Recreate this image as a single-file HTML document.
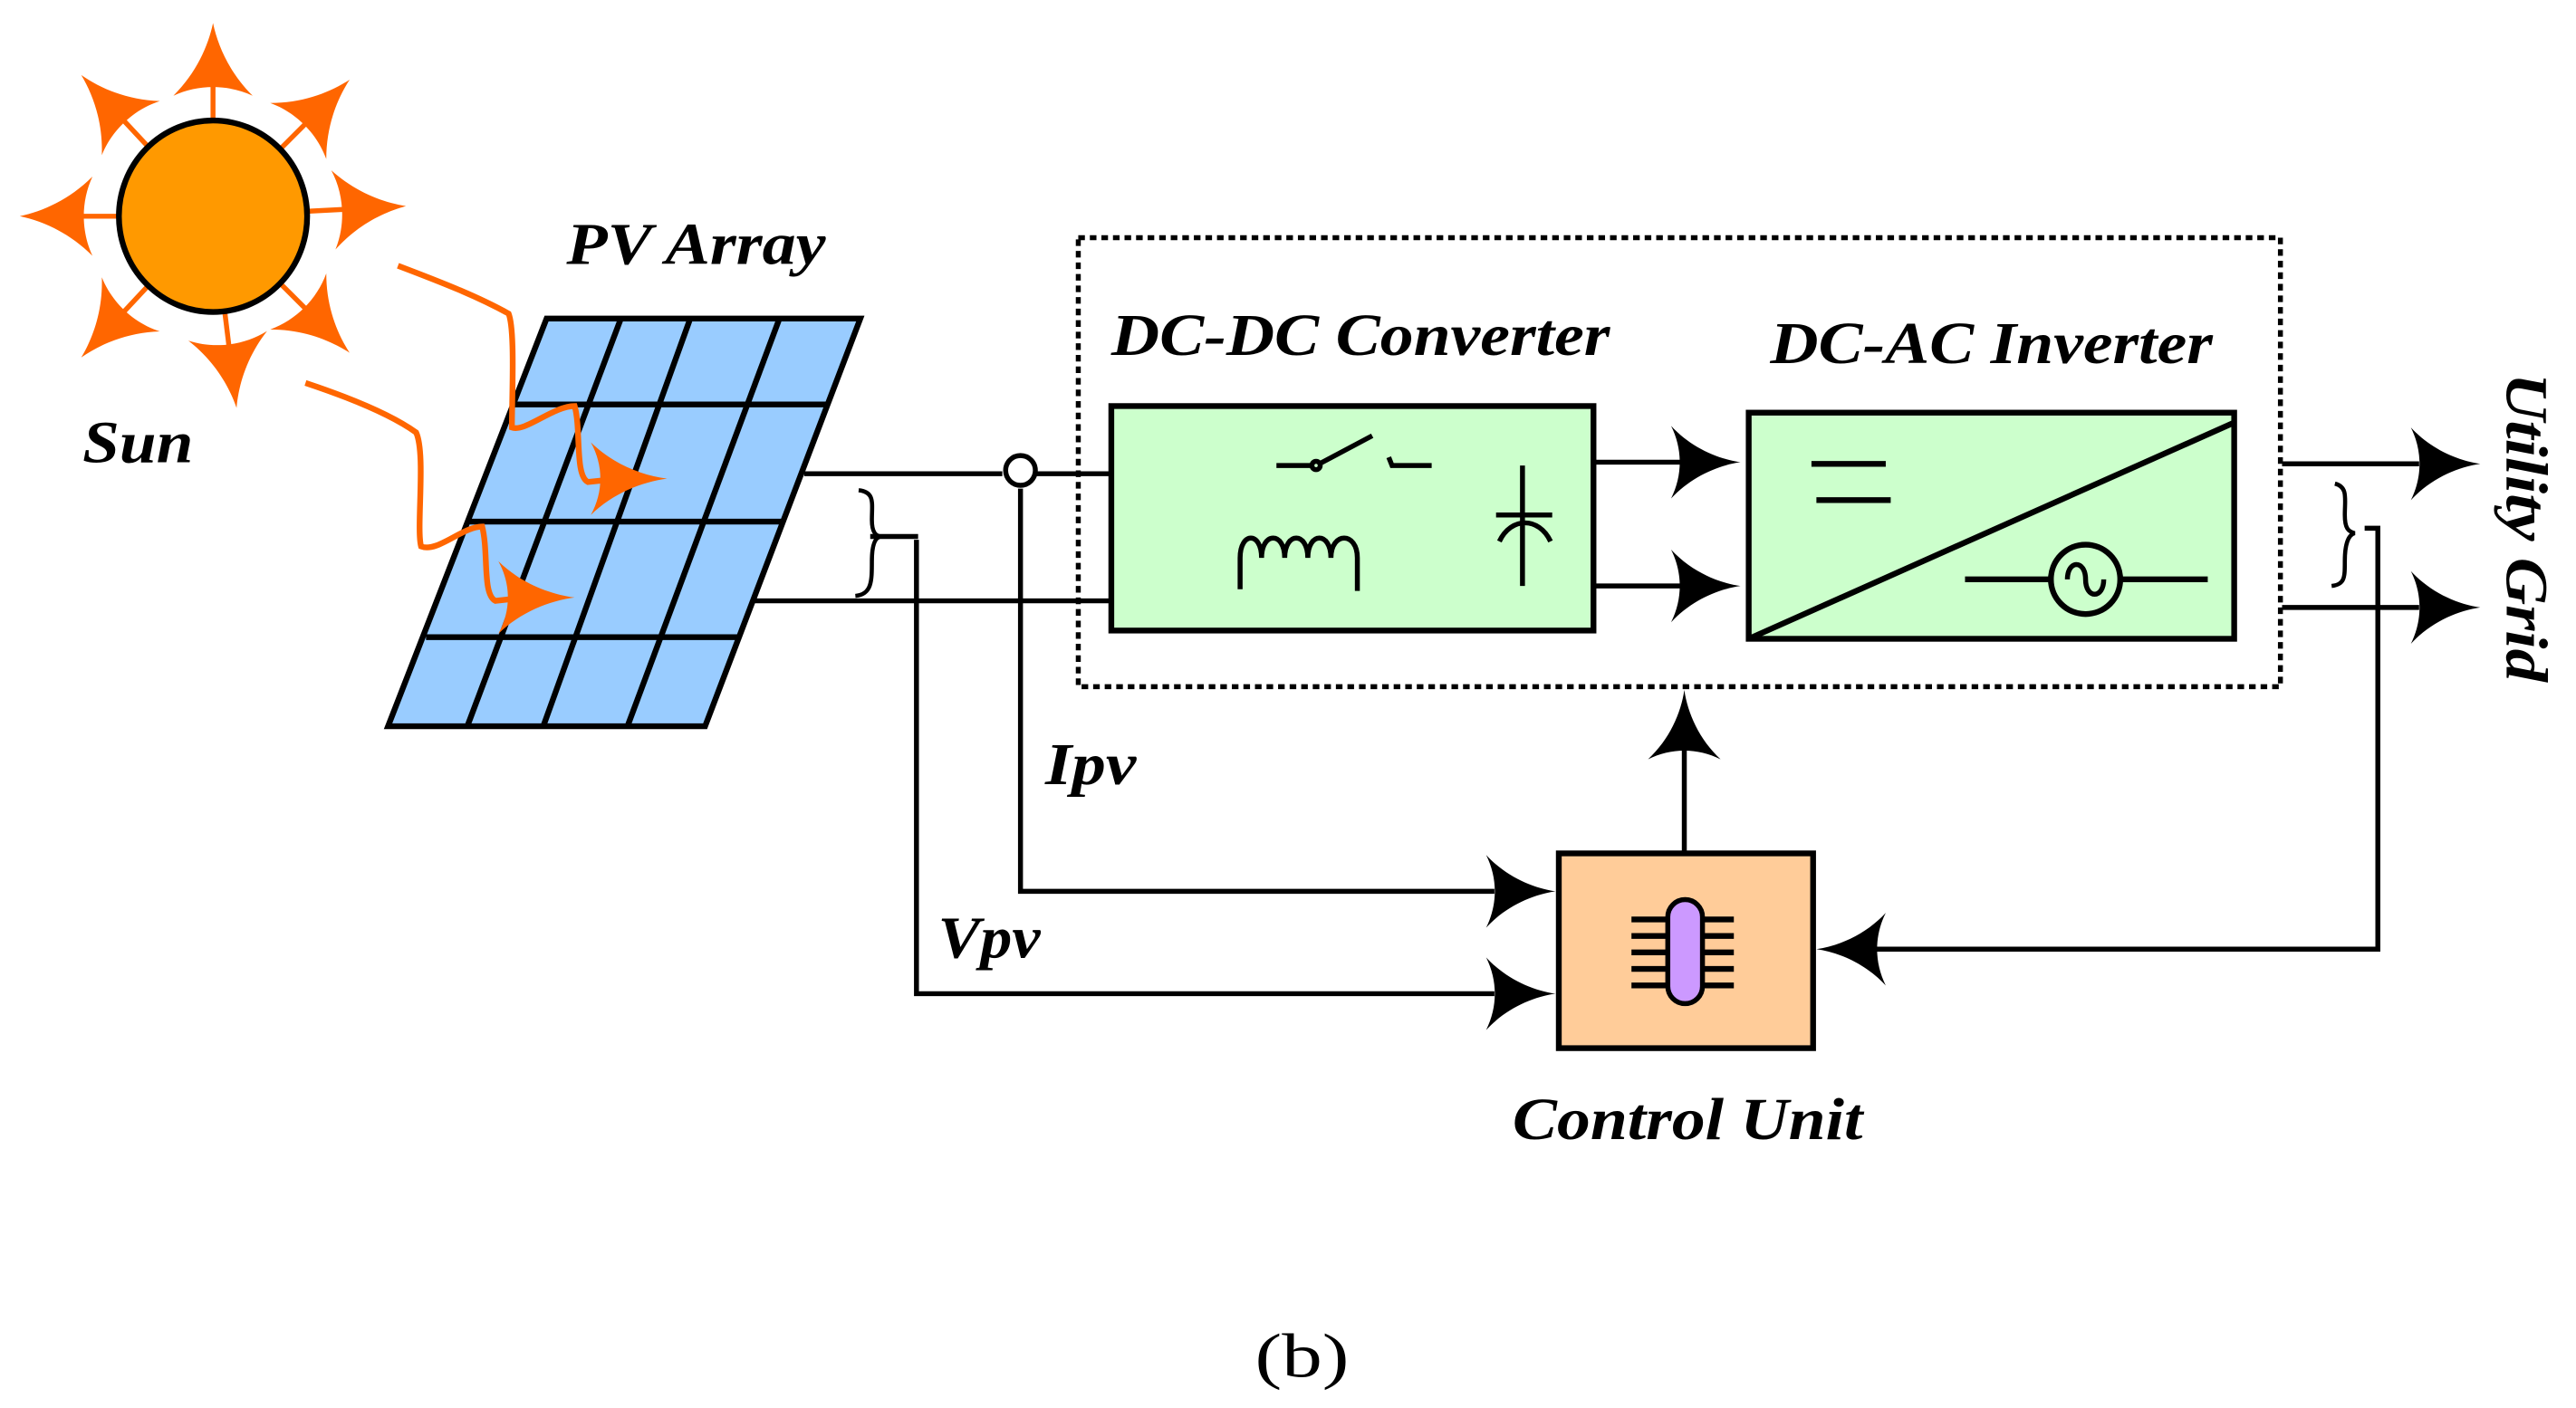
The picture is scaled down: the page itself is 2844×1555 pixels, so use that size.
<!DOCTYPE html>
<html><head><meta charset="utf-8"><style>
html,body{margin:0;padding:0;background:#fff;}
svg{display:block;}
text{font-family:"Liberation Serif",serif;font-weight:bold;font-style:italic;fill:#000;}
text.plain{font-weight:normal;font-style:normal;}
</style></head><body>
<svg width="2844" height="1555" viewBox="0 0 1560 853" preserveAspectRatio="none" xmlns="http://www.w3.org/2000/svg">
<defs>
<path id="ah" d="M0,0 C-14,-2 -30,-9 -42,-22 C-35,-8 -35,8 -42,22 C-30,9 -14,2 0,0Z"/>
<path id="sh" d="M0,0 C-14,-3 -30,-10 -44,-24 C-37,-9 -37,9 -44,24 C-30,10 -14,3 0,0Z"/>
</defs>
<rect width="1560" height="853" fill="#fff"/>

<!-- Sun rays -->
<g fill="#ff6600" stroke="#ff6600">
<g transform="translate(129,131)">
  <g transform="rotate(-90)"><line x1="58" y1="0" x2="88" y2="0" stroke-width="3"/><use href="#sh" transform="translate(117,0)" stroke="none"/></g>
  <g transform="rotate(-45)"><line x1="58" y1="0" x2="88" y2="0" stroke-width="3"/><use href="#sh" transform="translate(117,0)" stroke="none"/></g>
  <g transform="rotate(-3)"><line x1="58" y1="0" x2="88" y2="0" stroke-width="3"/><use href="#sh" transform="translate(117,0)" stroke="none"/></g>
  <g transform="rotate(45)"><line x1="58" y1="0" x2="88" y2="0" stroke-width="3"/><use href="#sh" transform="translate(117,0)" stroke="none"/></g>
  <g transform="rotate(83)"><line x1="58" y1="0" x2="88" y2="0" stroke-width="3"/><use href="#sh" transform="translate(117,0)" stroke="none"/></g>
  <g transform="rotate(133)"><line x1="58" y1="0" x2="88" y2="0" stroke-width="3"/><use href="#sh" transform="translate(117,0)" stroke="none"/></g>
  <g transform="rotate(180)"><line x1="58" y1="0" x2="88" y2="0" stroke-width="3"/><use href="#sh" transform="translate(117,0)" stroke="none"/></g>
  <g transform="rotate(-133)"><line x1="58" y1="0" x2="88" y2="0" stroke-width="3"/><use href="#sh" transform="translate(117,0)" stroke="none"/></g>
</g>
</g>
<ellipse cx="129" cy="131" rx="57" ry="58" fill="#ff9900" stroke="#000" stroke-width="3.5"/>
<text x="50" y="280" font-size="36" textLength="67" lengthAdjust="spacingAndGlyphs">Sun</text>

<!-- PV panel -->
<polygon points="331,193 521,193 427,440 235,440" fill="#99ccff" stroke="#000" stroke-width="3.5"/>
<g stroke="#000" stroke-width="3.5">
<line x1="311" y1="245" x2="501" y2="245"/>
<line x1="284" y1="316" x2="474" y2="316"/>
<line x1="258" y1="386" x2="448" y2="386"/>
<line x1="376" y1="193" x2="283" y2="440"/>
<line x1="418" y1="193" x2="329" y2="440"/>
<line x1="472" y1="193" x2="380" y2="440"/>
</g>
<text x="343" y="160" font-size="36" textLength="157" lengthAdjust="spacingAndGlyphs">PV Array</text>

<!-- light rays -->
<g fill="none" stroke="#ff6600" stroke-width="3.5">
<path d="M241,161 C270,172 290,180 308,190 C312,200 310,240 310,259 C318,262 335,246 348,246 C352,260 348,288 356,292 L375,290"/>
<path d="M185,232 C215,242 238,252 252,262 C258,275 252,320 255,331 C265,335 280,319 292,319 C296,335 292,360 300,364 L318,362"/>
</g>
<g fill="#ff6600">
<use href="#ah" transform="translate(404,290) scale(1.1,1)"/>
<use href="#ah" transform="translate(348,362) scale(1.1,1)"/>
</g>

<!-- wires from panel -->
<g stroke="#000" stroke-width="3" fill="none">
<line x1="487" y1="287" x2="607" y2="287"/>
<line x1="625" y1="287" x2="673" y2="287"/>
<line x1="457" y1="364" x2="678" y2="364"/>
<polyline points="618,296 618,540 905,540"/>
<polyline points="555,327 555,602 905,602"/>
<line x1="527" y1="325" x2="556" y2="325"/>
<polyline points="1432,320 1440,320 1440,575 1135,575"/>
<line x1="1020" y1="517" x2="1020" y2="450"/>
<line x1="966" y1="280" x2="1025" y2="280"/>
<line x1="966" y1="355" x2="1025" y2="355"/>
<line x1="1382" y1="281" x2="1465" y2="281"/>
<line x1="1382" y1="368" x2="1465" y2="368"/>
</g>
<circle cx="618" cy="285" r="9" fill="#fff" stroke="#000" stroke-width="3"/>
<!-- braces -->
<path d="M520,297 C530,298 528,305 528,315 C528,322 530,325 534,325 C530,325 528,330 528,340 C528,352 528,360 518,361" fill="none" stroke="#000" stroke-width="2.5"/>
<path d="M1414,293 C1422,295 1420,302 1420,312 C1420,320 1422,322 1426,323 C1422,324 1420,330 1420,340 C1420,350 1420,354 1412,355" fill="none" stroke="#000" stroke-width="2.5"/>

<!-- dashed box -->
<rect x="653" y="144" width="728" height="272" fill="none" stroke="#000" stroke-width="3" stroke-dasharray="4,3"/>

<!-- DC-DC -->
<rect x="673" y="246" width="292" height="136" fill="#ccffcc" stroke="#000" stroke-width="3.5"/>
<text x="673" y="215" font-size="36" textLength="302" lengthAdjust="spacingAndGlyphs">DC-DC Converter</text>
<g stroke="#000" stroke-width="3" fill="none">
<line x1="773" y1="282" x2="795" y2="282"/>
<circle cx="797" cy="282" r="2.5"/>
<line x1="799" y1="281" x2="831" y2="264"/>
<polyline points="841,277 843,282 867,282"/>
<path d="M751,357 L751,338 C751,322 764,322 764,338 C764,322 778,322 778,338 C778,322 792,322 792,338 C792,322 806,322 806,338 C806,322 822,322 822,338 L822,358"/>
<line x1="906" y1="312" x2="940" y2="312"/>
<path d="M908,328 C915,313 932,313 939,328"/>
<line x1="922" y1="282" x2="922" y2="355"/>
</g>
<use href="#ah" transform="translate(1054,280)"/>
<use href="#ah" transform="translate(1054,355)"/>

<!-- Inverter -->
<rect x="1059" y="250" width="294" height="137" fill="#ccffcc" stroke="#000" stroke-width="3.5"/>
<text x="1072" y="220" font-size="36" textLength="268" lengthAdjust="spacingAndGlyphs">DC-AC Inverter</text>
<g stroke="#000" stroke-width="3.5" fill="none">
<line x1="1059" y1="387" x2="1353" y2="256"/>
<line x1="1097" y1="281" x2="1142" y2="281"/>
<line x1="1100" y1="303" x2="1145" y2="303"/>
<line x1="1190" y1="351" x2="1337" y2="351"/>
</g>
<circle cx="1263" cy="351" r="21" fill="#ccffcc" stroke="#000" stroke-width="3.5"/>
<path d="M1252,351 C1252,339 1263,339 1263,351 C1263,363 1274,363 1274,351" fill="none" stroke="#000" stroke-width="3"/>
<use href="#ah" transform="translate(1502,281)"/>
<use href="#ah" transform="translate(1502,368)"/>
<text font-size="36" transform="translate(1518,226) rotate(90)" textLength="187" lengthAdjust="spacingAndGlyphs">Utility Grid</text>

<!-- Control unit -->
<use href="#ah" transform="translate(942,540)"/>
<use href="#ah" transform="translate(942,602)"/>
<use href="#ah" transform="translate(1100,575) rotate(180)"/>
<use href="#ah" transform="translate(1020,418) rotate(-90)"/>
<rect x="944" y="517" width="154" height="118" fill="#ffcc99" stroke="#000" stroke-width="3.5"/>
<g stroke="#000" stroke-width="3.5">
<line x1="988" y1="557" x2="1050" y2="557"/>
<line x1="988" y1="567" x2="1050" y2="567"/>
<line x1="988" y1="577" x2="1050" y2="577"/>
<line x1="988" y1="587" x2="1050" y2="587"/>
<line x1="988" y1="597" x2="1050" y2="597"/>
</g>
<rect x="1010" y="545" width="21" height="63" rx="10.5" fill="#cc99ff" stroke="#000" stroke-width="3"/>

<text x="633" y="475" font-size="36" textLength="55" lengthAdjust="spacingAndGlyphs">Ipv</text>
<text x="568" y="580" font-size="36" textLength="62" lengthAdjust="spacingAndGlyphs">Vpv</text>
<text x="916" y="690" font-size="36" textLength="212" lengthAdjust="spacingAndGlyphs">Control Unit</text>
<text class="plain" x="760" y="834" font-size="38" textLength="57" lengthAdjust="spacingAndGlyphs">(b)</text>
</svg>
</body></html>
